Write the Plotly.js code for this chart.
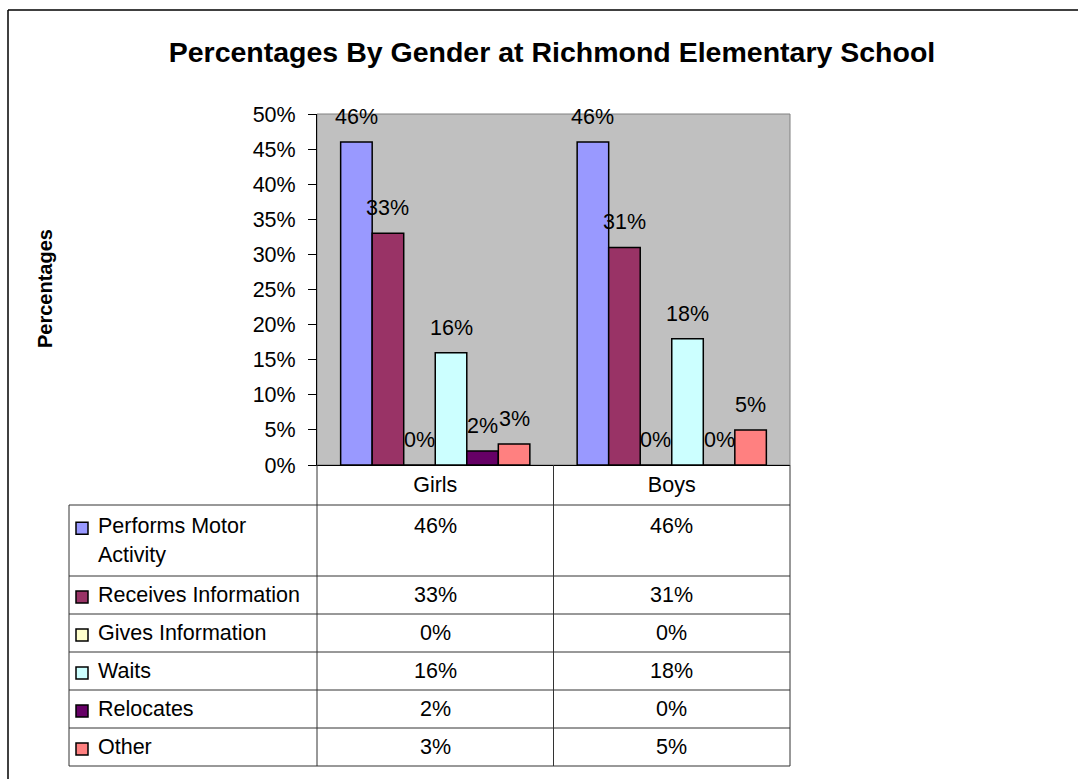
<!DOCTYPE html>
<html>
<head>
<meta charset="utf-8">
<script src="https://cdn.plot.ly/plotly-3.0.1.min.js"></script>
<style>
  html, body { margin: 0; padding: 0; background: #fff; overflow: hidden; }
  #chart { width: 1078px; height: 779px; overflow: hidden; }
</style>
</head>
<body>
<div id="chart"></div>
<script>
// ---- data ----
const categories = ["Girls", "Boys"];
const seriesNames = ["Performs Motor Activity", "Receives Information", "Gives Information", "Waits", "Relocates", "Other"];
const performsMotor = [46, 46];
const receivesInfo  = [33, 31];
const givesInfo     = [0, 0];
const waits         = [16, 18];
const relocates     = [2, 0];
const other         = [3, 5];
const seriesValues = [performsMotor, receivesInfo, givesInfo, waits, relocates, other];
const seriesColors = ["#9999FF", "#993366", "#FFFFCC", "#CCFFFF", "#660066", "#FF8080"];
const yTickVals = [0, 5, 10, 15, 20, 25, 30, 35, 40, 45, 50];
const titleText = "Percentages By Gender at Richmond Elementary School";
const yTitleText = "Percentages";

// ---- layout geometry (pixels) ----
const FIG_W = 1078, FIG_H = 779;
const PL = 317, PR = 790, PT = 114, PB = 465;
const PW = PR - PL, PH = PB - PT;
const BARGAP = 0.2;
const FONT = "Liberation Sans, Arial, sans-serif";
const FS = 21.5;

const px = x => (x - PL) / PW;
const py = y => 1 - (y - PT) / PH;

// ---- traces ----
const traces = seriesNames.map((name, i) => ({
  type: "bar",
  name: name,
  x: categories,
  y: seriesValues[i],
  marker: { color: seriesColors[i], line: { color: "#000", width: 1.5 } },
  hoverinfo: "x+y+name",
  showlegend: false
}));

// ---- annotations: data labels ----
const nS = seriesNames.length;
const catW = PW / categories.length;
const barW = catW * (1 - BARGAP) / nS;
const annotations = [];
seriesValues.forEach((vals, i) => {
  vals.forEach((v, j) => {
    annotations.push({
      xref: "x", yref: "y", x: categories[j], y: v,
      xshift: (i - (nS - 1) / 2) * barW,
      yshift: 11,
      yanchor: "bottom", xanchor: "center",
      text: v + "%", showarrow: false,
      font: { family: FONT, size: FS, color: "#000" }
    });
  });
});

// y-axis title
annotations.push({
  xref: "paper", yref: "paper", x: px(45), y: py(289),
  text: "<b>" + yTitleText + "</b>", textangle: -90, showarrow: false,
  xanchor: "center", yanchor: "middle",
  font: { family: FONT, size: 20, color: "#000" }
});

// ---- data table ----
const shapes = [];
const lineCol = "#333";
const TABLE_L = 69, HEADER_BOTTOM = 505;
const LABEL_X = 96, KEY_X0 = 76, KEY_X1 = 88;
const labelMaxW = 214;
const ctx = document.createElement("canvas").getContext("2d");
ctx.font = FS + "px " + FONT;
function wrap(text) {
  const words = text.split(" ");
  const lines = [];
  let cur = "";
  words.forEach(w => {
    const t = cur ? cur + " " + w : w;
    if (cur && ctx.measureText(t).width > labelMaxW) { lines.push(cur); cur = w; }
    else cur = t;
  });
  lines.push(cur);
  return lines;
}
const ROW_H = 38, LINE_EXTRA = 33, LINE_SP = 28.6;
let rowTop = HEADER_BOTTOM;
const rowLines = [HEADER_BOTTOM];
seriesNames.forEach((name, i) => {
  const lines = wrap(name);
  const h = ROW_H + (lines.length - 1) * LINE_EXTRA;
  const c1 = rowTop + (h - (lines.length - 1) * LINE_SP) / 2;
  lines.forEach((ln, k) => {
    annotations.push({
      xref: "paper", yref: "paper", x: px(LABEL_X), y: py(c1 + k * LINE_SP),
      xanchor: "left", yanchor: "middle", text: ln, showarrow: false,
      font: { family: FONT, size: FS, color: "#000" }
    });
  });
  // key square
  shapes.push({
    type: "rect", xref: "paper", yref: "paper",
    x0: px(KEY_X0), x1: px(KEY_X1), y0: py(c1 - 4), y1: py(c1 + 8),
    fillcolor: seriesColors[i], line: { color: "#000", width: 1.5 }
  });
  // values
  seriesValues[i].forEach((v, j) => {
    annotations.push({
      xref: "x", yref: "paper", x: categories[j], y: py(c1),
      xanchor: "center", yanchor: "middle", text: v + "%", showarrow: false,
      font: { family: FONT, size: FS, color: "#000" }
    });
  });
  rowTop += h;
  rowLines.push(rowTop);
});
const TABLE_B = rowTop;
// horizontal lines
rowLines.forEach(y => shapes.push({
  type: "line", xref: "paper", yref: "paper",
  x0: px(TABLE_L), x1: px(PR), y0: py(y), y1: py(y),
  line: { color: lineCol, width: 1 }
}));
// vertical lines
[PL, PL + catW, PR].forEach(x => shapes.push({
  type: "line", xref: "paper", yref: "paper",
  x0: px(x), x1: px(x), y0: py(PB), y1: py(TABLE_B),
  line: { color: lineCol, width: 1 }
}));
shapes.push({
  type: "line", xref: "paper", yref: "paper",
  x0: px(TABLE_L), x1: px(TABLE_L), y0: py(HEADER_BOTTOM), y1: py(TABLE_B),
  line: { color: lineCol, width: 1 }
});
// plot area border (top/right gray)
shapes.push({
  type: "rect", xref: "paper", yref: "paper", x0: 0, x1: 1, y0: 0, y1: 1,
  line: { color: "#808080", width: 1 }, layer: "below"
});
// outer chart border (left and top edges visible)
shapes.push({
  type: "line", xref: "paper", yref: "paper",
  x0: px(8), x1: px(8), y0: py(10), y1: py(FIG_H),
  line: { color: "#000", width: 1.5 }
});
shapes.push({
  type: "line", xref: "paper", yref: "paper",
  x0: px(8), x1: px(FIG_W), y0: py(10), y1: py(10),
  line: { color: "#000", width: 1.5 }
});

const layout = {
  width: FIG_W, height: FIG_H,
  margin: { l: PL, r: FIG_W - PR, t: PT, b: FIG_H - PB, pad: 0 },
  paper_bgcolor: "#fff",
  plot_bgcolor: "#C0C0C0",
  barmode: "group",
  bargap: BARGAP,
  bargroupgap: 0,
  font: { family: FONT, size: FS, color: "#000" },
  title: {
    text: "<b>" + titleText + "</b>",
    font: { family: FONT, size: 28.5, color: "#000" },
    xref: "container", yref: "container",
    x: 552 / FIG_W, y: 1 - 52 / FIG_H, xanchor: "center", yanchor: "middle"
  },
  xaxis: {
    type: "category", showgrid: false, zeroline: false,
    showline: true, linecolor: "#000", linewidth: 1,
    ticks: "", ticklabelstandoff: 0,
    tickfont: { family: FONT, size: FS, color: "#000" },
    fixedrange: true
  },
  yaxis: {
    range: [0, 50], tickvals: yTickVals, ticktext: yTickVals.map(v => v + "%"),
    showgrid: false, zeroline: false,
    showline: true, linecolor: "#000", linewidth: 1,
    ticks: "outside", ticklen: 8, tickcolor: "#000", tickwidth: 1,
    ticklabelstandoff: 8,
    tickfont: { family: FONT, size: FS, color: "#000" },
    fixedrange: true
  },
  shapes: shapes,
  annotations: annotations,
  showlegend: false
};

Plotly.newPlot("chart", traces, layout, { displayModeBar: false });
</script>
</body>
</html>
